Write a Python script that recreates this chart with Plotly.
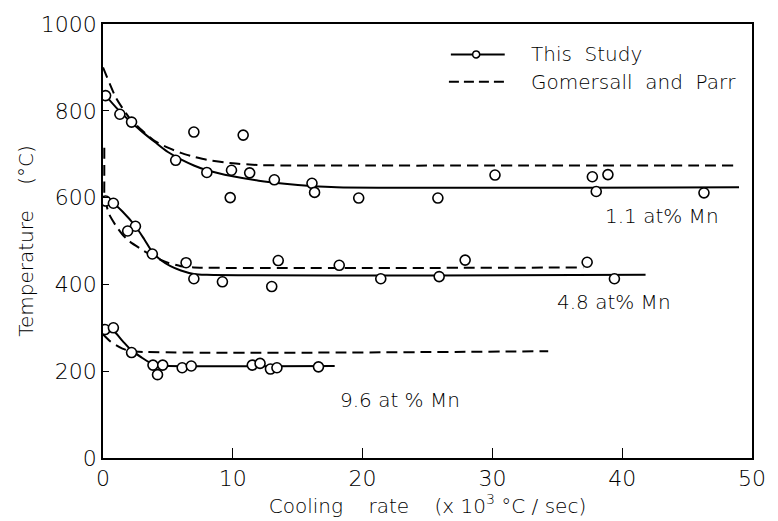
import plotly.graph_objects as go

# Measured transformation temperatures, "This Study" (cooling rate in 10^3 degC/s)
mn11_rate = [0.2, 1.3, 2.2, 7.0, 10.8, 5.6, 8.0, 9.9, 11.3, 13.2, 16.1, 16.3, 9.8,
             19.7, 25.8, 30.2, 37.7, 38.9, 38.0, 46.3]
mn11_temp = [835, 792, 774, 751, 744, 686, 658, 663, 657, 641, 633, 612, 600,
             599, 599, 652, 648, 653, 614, 611]

mn48_rate = [0.2, 0.8, 2.5, 1.9, 3.8, 6.4, 7.0, 9.2, 13.5, 13.0, 18.2,
             21.4, 25.9, 27.9, 37.3, 39.4]
mn48_temp = [592, 587, 534, 523, 470, 450, 413, 406, 455, 395, 444,
             413, 418, 456, 451, 413]

mn96_rate = [0.15, 0.8, 2.2, 3.85, 4.6, 4.2, 6.1, 6.8, 11.5, 12.1, 12.9, 13.4, 16.6]
mn96_temp = [296, 300, 243, 214, 214, 192, 208, 212, 214, 218, 205, 208, 210]

# Fitted curves, this study (solid)
fit11_rate = [0, 1, 2, 3, 4, 5, 6, 7, 8, 10, 12, 14, 16, 18, 49]
fit11_temp = [842, 808, 778, 752, 728, 705, 688, 674, 663, 649, 639, 632, 627, 624, 624]

fit48_rate = [0, 0.8, 1.5, 2.5, 3.2, 3.8, 4.5, 5.2, 6, 7, 8, 41.8]
fit48_temp = [600, 587, 568, 534, 503, 475, 455, 442, 432, 424, 422, 422]

fit96_rate = [0, 0.8, 1.5, 2.2, 3, 3.6, 4.3, 5, 17.85]
fit96_temp = [300, 293, 270, 248, 231, 220, 213, 212, 212]

# Gomersall and Parr (dashed)
gp11_rate = [0, 1, 2, 3, 4, 5, 6, 7, 8, 10, 12, 14, 49]
gp11_temp = [900, 830, 785, 755, 730, 715, 703, 694, 687, 679, 675, 674, 674]

gp48_rate = [0.1, 0.1, 0.12, 0.5, 1, 1.5, 2, 3, 4, 5, 6, 7, 37]
gp48_temp = [715, 640, 600, 560, 535, 515, 500, 480, 463, 450, 442, 439, 439]

gp96_rate = [0, 0.5, 1, 1.5, 2.2, 34.3]
gp96_temp = [285, 270, 260, 252, 246, 246]

# Composition labels
labels = ["1.1 at% Mn", "4.8 at% Mn", "9.6 at % Mn"]
label_rate = [43.1, 39.4, 22.9]
label_temp = [558, 359, 134]

FONT = "DejaVu Sans"
INK = "#000000"


def txt(size):
    return dict(family=FONT, size=size, color=INK, weight=200)


fig = go.Figure()

for xs, ys in [(fit11_rate, fit11_temp), (fit48_rate, fit48_temp), (fit96_rate, fit96_temp)]:
    fig.add_trace(go.Scatter(x=xs, y=ys, mode="lines",
                             line=dict(color=INK, width=2, shape="spline", smoothing=0.8),
                             showlegend=False, hoverinfo="skip"))

for xs, ys in [(gp11_rate, gp11_temp), (gp48_rate, gp48_temp), (gp96_rate, gp96_temp)]:
    fig.add_trace(go.Scatter(x=xs, y=ys, mode="lines",
                             line=dict(color=INK, width=2, dash="11px,6px",
                                       shape="spline", smoothing=0.6),
                             showlegend=False, hoverinfo="skip"))

for xs, ys in [(mn11_rate, mn11_temp), (mn48_rate, mn48_temp), (mn96_rate, mn96_temp)]:
    fig.add_trace(go.Scatter(x=xs, y=ys, mode="markers",
                             marker=dict(symbol="circle", size=10, color="white",
                                         line=dict(color=INK, width=1.6)),
                             showlegend=False))

for t, x, y in zip(labels, label_rate, label_temp):
    fig.add_annotation(x=x, y=y, text=t, showarrow=False, font=txt(20))

# Hand-drawn style legend in the upper right
leg_y1, leg_y2 = 0.93, 0.867
fig.add_shape(type="line", xref="paper", yref="paper", x0=0.536, x1=0.619,
              y0=leg_y1, y1=leg_y1, line=dict(color=INK, width=2))
fig.add_shape(type="circle", xref="paper", yref="paper", xsizemode="pixel",
              ysizemode="pixel", xanchor=0.575, yanchor=leg_y1,
              x0=-3.5, x1=3.5, y0=-3.5, y1=3.5,
              fillcolor="white", line=dict(color=INK, width=1.5))
fig.add_shape(type="line", xref="paper", yref="paper", x0=0.533, x1=0.619,
              y0=leg_y2, y1=leg_y2, line=dict(color=INK, width=2, dash="10px,5px"))
fig.add_annotation(xref="paper", yref="paper", x=0.656, y=leg_y1, text="This  Study",
                   showarrow=False, xanchor="left", yanchor="middle", font=txt(20))
fig.add_annotation(xref="paper", yref="paper", x=0.656, y=leg_y2,
                   text="Gomersall  and  Parr", showarrow=False, xanchor="left",
                   yanchor="middle", font=txt(20))

axis_common = dict(showgrid=False, zeroline=False, showline=True, mirror=True,
                   linecolor=INK, linewidth=1.5, ticks="inside", tickcolor=INK,
                   tickwidth=1.2, tickfont=txt(22))

fig.update_xaxes(range=[0, 50], tickvals=[0, 10, 20, 30, 40, 50], ticklen=10,
                 title=dict(text="Cooling    rate    (x 10<sup>3</sup> °C / sec)",
                            font=txt(20), standoff=2),
                 **axis_common)
fig.update_yaxes(range=[0, 1000], tickvals=[0, 200, 400, 600, 800, 1000], ticklen=6,
                 title=dict(text="Temperature    (°C)", font=txt(20), standoff=2),
                 **axis_common)

fig.update_layout(width=778, height=521, margin=dict(l=103, r=13, t=20, b=63),
                  plot_bgcolor="white", paper_bgcolor="white", showlegend=False)

fig.write_html("out.html")
